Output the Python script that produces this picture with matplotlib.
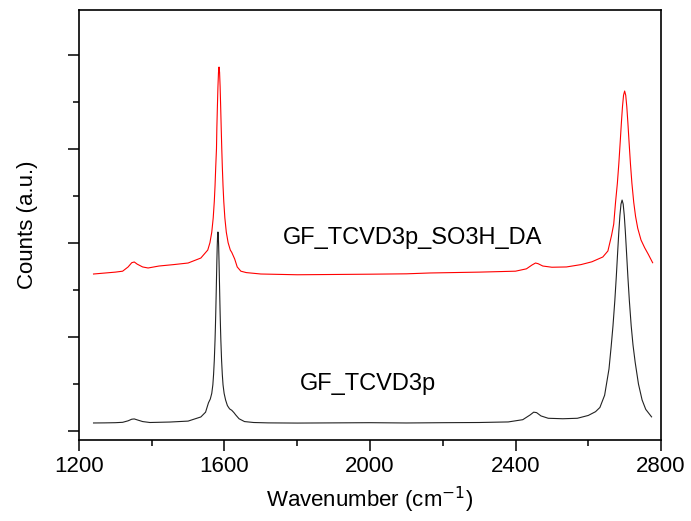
import matplotlib
matplotlib.use('Agg')
import matplotlib.pyplot as plt
from matplotlib.ticker import MultipleLocator

plt.rcParams['font.family'] = ['Liberation Sans', 'DejaVu Sans']

# spectrum of GF_TCVD3p (black)
wn_black = [1240, 1270, 1300, 1320, 1335, 1345, 1352, 1360, 1375, 1395, 1450, 1500, 1535,
            1548, 1556, 1561, 1565, 1568, 1570, 1572, 1574, 1575, 1576, 1577, 1578, 1579,
            1580, 1581, 1582, 1583, 1584, 1585, 1586, 1587, 1588, 1589, 1590, 1592, 1594,
            1596, 1599, 1603, 1608, 1614, 1620, 1626, 1631, 1640, 1655, 1680, 1720, 1800,
            1900, 2000, 2100, 2200, 2300, 2380, 2420, 2440, 2450, 2458, 2470, 2490, 2530,
            2570, 2600, 2620, 2632, 2645, 2657, 2663, 2668, 2673, 2677, 2681, 2684, 2687,
            2690, 2693, 2696, 2699, 2702, 2705, 2709, 2713, 2718, 2723, 2729, 2738, 2748,
            2758, 2774]
cnt_black = [85, 86, 88, 92, 108, 125, 128, 118, 100, 90, 95, 105, 149,
             200, 300, 340, 400, 491, 601, 753, 966, 1101, 1256, 1430, 1617, 1802,
             1963, 2076, 2117, 2076, 1963, 1802, 1617, 1430, 1256, 1101, 966, 753, 601,
             491, 400, 330, 270, 235, 220, 195, 170, 130, 100, 90, 86, 84,
             86, 88, 85, 88, 90, 96, 120, 170, 200, 195, 160, 135, 130,
             135, 165, 205, 250, 380, 660, 900, 1120, 1385, 1636, 1914, 2118, 2293,
             2414, 2457, 2414, 2293, 2118, 1914, 1636, 1385, 1120, 915, 730, 500, 330,
             230, 150]

# spectrum of GF_TCVD3p_SO3H_DA (red)
wn_red = [1240, 1270, 1300, 1320, 1335, 1345, 1352, 1360, 1375, 1390, 1420, 1460, 1500,
          1535, 1554, 1560, 1565, 1569, 1572, 1574, 1576, 1578, 1579, 1580.5, 1582, 1583.5,
          1585, 1586.5, 1588, 1589.5, 1591, 1592.5, 1594, 1596, 1598, 1601, 1605, 1610,
          1616, 1620, 1628, 1635, 1645, 1660, 1700, 1800, 1900, 2000, 2100, 2165, 2300,
          2400, 2430, 2445, 2455, 2462, 2475, 2500, 2540, 2580, 2610, 2640, 2654, 2664,
          2670, 2675, 2680, 2684, 2688, 2691, 2694, 2697, 2700, 2703, 2706, 2709, 2712,
          2716, 2720, 2725, 2730, 2736, 2745, 2755, 2765, 2777]
cnt_red = [1670, 1680, 1690, 1700, 1745, 1790, 1798, 1775, 1745, 1734, 1755, 1770, 1787,
           1840, 1925, 2003, 2115, 2267, 2444, 2607, 2816, 3006, 3222, 3450, 3661, 3815,
           3872, 3815, 3661, 3450, 3222, 3006, 2816, 2607, 2444, 2267, 2115, 2003,
           1925, 1900, 1830, 1745, 1700, 1685, 1670, 1662, 1665, 1668, 1672, 1681, 1690,
           1700, 1725, 1765, 1787, 1780, 1755, 1742, 1745, 1770, 1800, 1851, 1915, 2080,
           2200, 2433, 2635, 2842, 3085, 3275, 3447, 3572, 3617, 3572, 3447, 3275, 3085,
           2842, 2635, 2433, 2284, 2157, 2032, 1950, 1880, 1790]

xticks = [1200, 1600, 2000, 2400, 2800]

fig = plt.figure(figsize=(6.91, 5.21), dpi=100)
ax = fig.add_axes([0.1143, 0.1555, 0.8423, 0.8253])

ax.plot(wn_black, cnt_black, color='#222222', lw=0.8)
ax.plot(wn_red, cnt_red, color='#ff0000', lw=0.8)

ax.text(1760, 2053, 'GF_TCVD3p_SO3H_DA', fontsize=17, va='center', ha='left')
ax.text(1808, 500, 'GF_TCVD3p', fontsize=17, va='center', ha='left')

ax.set_xlim(1200, 2800)
ax.set_ylim(-96, 4479)
ax.set_xticks(xticks)
ax.xaxis.set_minor_locator(MultipleLocator(200))
ax.yaxis.set_major_locator(MultipleLocator(1000))
ax.yaxis.set_minor_locator(MultipleLocator(500))
ax.set_yticklabels([])
ax.tick_params(which='major', direction='out', length=8, width=1.1, labelsize=16)
ax.tick_params(which='minor', direction='out', length=4.5, width=1.1)
for s in ax.spines.values():
    s.set_linewidth(1.2)

ax.set_xlabel('Wavenumber (cm$^{-1}$)', fontsize=16, labelpad=6)
ax.set_ylabel('Counts (a.u.)', fontsize=16, labelpad=18)

fig.savefig('out.png', dpi=100)
